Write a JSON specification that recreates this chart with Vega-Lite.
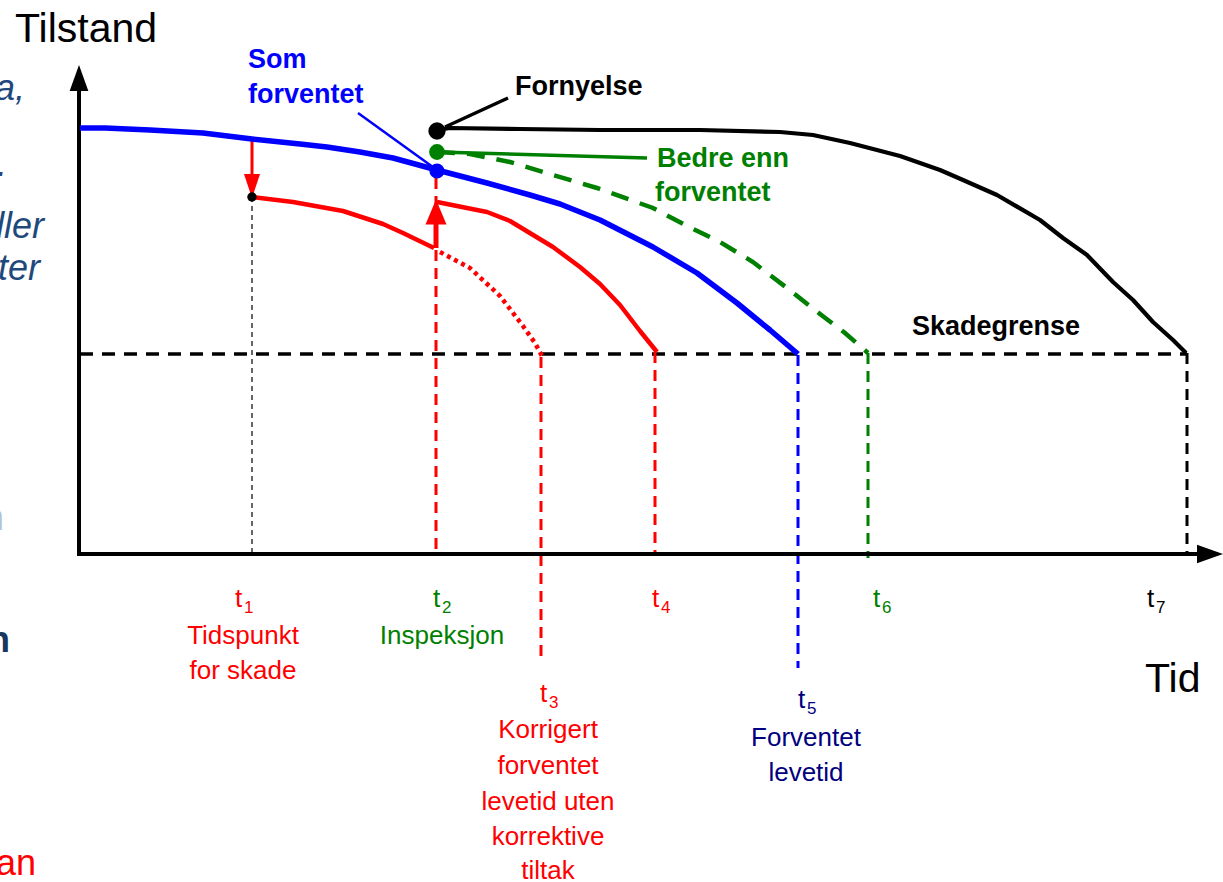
{
  "$schema": "https://vega.github.io/schema/vega-lite/v6.json",
  "width": 1223,
  "height": 882,
  "autosize": {"type": "none"},
  "padding": 0,
  "background": "white",
  "view": {"stroke": null},
  "config": {"font": "Liberation Sans"},
  "datasets": {
    "curves": [
      {"series": "blue", "role": "expected", "x": 80, "y": 128},
      {"series": "blue", "role": "expected", "x": 105, "y": 128},
      {"series": "blue", "role": "expected", "x": 150, "y": 130},
      {"series": "blue", "role": "expected", "x": 203, "y": 133},
      {"series": "blue", "role": "expected", "x": 252, "y": 139},
      {"series": "blue", "role": "expected", "x": 300, "y": 144},
      {"series": "blue", "role": "expected", "x": 327, "y": 147},
      {"series": "blue", "role": "expected", "x": 360, "y": 152},
      {"series": "blue", "role": "expected", "x": 393, "y": 158},
      {"series": "blue", "role": "expected", "x": 437, "y": 170},
      {"series": "blue", "role": "expected", "x": 487, "y": 183},
      {"series": "blue", "role": "expected", "x": 530, "y": 195},
      {"series": "blue", "role": "expected", "x": 560, "y": 204},
      {"series": "blue", "role": "expected", "x": 600, "y": 220},
      {"series": "blue", "role": "expected", "x": 653, "y": 247},
      {"series": "blue", "role": "expected", "x": 697, "y": 273},
      {"series": "blue", "role": "expected", "x": 737, "y": 303},
      {"series": "blue", "role": "expected", "x": 770, "y": 330},
      {"series": "blue", "role": "expected", "x": 798, "y": 354},
      {"series": "red1", "role": "damage", "x": 252, "y": 197},
      {"series": "red1", "role": "damage", "x": 293, "y": 202},
      {"series": "red1", "role": "damage", "x": 343, "y": 211},
      {"series": "red1", "role": "damage", "x": 383, "y": 224},
      {"series": "red1", "role": "damage", "x": 403, "y": 233},
      {"series": "red1", "role": "damage", "x": 434, "y": 248},
      {"series": "red2", "role": "damage", "x": 437, "y": 202},
      {"series": "red2", "role": "damage", "x": 487, "y": 212},
      {"series": "red2", "role": "damage", "x": 510, "y": 221},
      {"series": "red2", "role": "damage", "x": 553, "y": 247},
      {"series": "red2", "role": "damage", "x": 580, "y": 267},
      {"series": "red2", "role": "damage", "x": 600, "y": 284},
      {"series": "red2", "role": "damage", "x": 620, "y": 305},
      {"series": "red2", "role": "damage", "x": 640, "y": 331},
      {"series": "red2", "role": "damage", "x": 657, "y": 352},
      {"series": "redDot", "role": "damage", "x": 440, "y": 252},
      {"series": "redDot", "role": "damage", "x": 470, "y": 268},
      {"series": "redDot", "role": "damage", "x": 500, "y": 296},
      {"series": "redDot", "role": "damage", "x": 523, "y": 326},
      {"series": "redDot", "role": "damage", "x": 535, "y": 343},
      {"series": "redDot", "role": "damage", "x": 543, "y": 358},
      {"series": "greenDash", "role": "better", "x": 437, "y": 152},
      {"series": "greenDash", "role": "better", "x": 470, "y": 154},
      {"series": "greenDash", "role": "better", "x": 510, "y": 162},
      {"series": "greenDash", "role": "better", "x": 553, "y": 175},
      {"series": "greenDash", "role": "better", "x": 597, "y": 188},
      {"series": "greenDash", "role": "better", "x": 653, "y": 208},
      {"series": "greenDash", "role": "better", "x": 687, "y": 226},
      {"series": "greenDash", "role": "better", "x": 720, "y": 242},
      {"series": "greenDash", "role": "better", "x": 753, "y": 262},
      {"series": "greenDash", "role": "better", "x": 787, "y": 288},
      {"series": "greenDash", "role": "better", "x": 820, "y": 314},
      {"series": "greenDash", "role": "better", "x": 845, "y": 333},
      {"series": "greenDash", "role": "better", "x": 868, "y": 353},
      {"series": "renewal", "role": "renewal", "x": 437, "y": 130},
      {"series": "renewal", "role": "renewal", "x": 450, "y": 128},
      {"series": "renewal", "role": "renewal", "x": 520, "y": 129},
      {"series": "renewal", "role": "renewal", "x": 600, "y": 130},
      {"series": "renewal", "role": "renewal", "x": 700, "y": 130},
      {"series": "renewal", "role": "renewal", "x": 780, "y": 132},
      {"series": "renewal", "role": "renewal", "x": 813, "y": 135},
      {"series": "renewal", "role": "renewal", "x": 850, "y": 143},
      {"series": "renewal", "role": "renewal", "x": 900, "y": 156},
      {"series": "renewal", "role": "renewal", "x": 940, "y": 170},
      {"series": "renewal", "role": "renewal", "x": 963, "y": 180},
      {"series": "renewal", "role": "renewal", "x": 997, "y": 195},
      {"series": "renewal", "role": "renewal", "x": 1040, "y": 220},
      {"series": "renewal", "role": "renewal", "x": 1063, "y": 238},
      {"series": "renewal", "role": "renewal", "x": 1087, "y": 255},
      {"series": "renewal", "role": "renewal", "x": 1113, "y": 282},
      {"series": "renewal", "role": "renewal", "x": 1133, "y": 300},
      {"series": "renewal", "role": "renewal", "x": 1153, "y": 322},
      {"series": "renewal", "role": "renewal", "x": 1173, "y": 340},
      {"series": "renewal", "role": "renewal", "x": 1186, "y": 353},
      {"series": "blueLeader", "role": "expected", "x": 358, "y": 113},
      {"series": "blueLeader", "role": "expected", "x": 437, "y": 170},
      {"series": "blackLeader", "role": "renewal", "x": 445, "y": 127},
      {"series": "blackLeader", "role": "renewal", "x": 508, "y": 98},
      {"series": "greenLeader", "role": "better", "x": 437, "y": 152},
      {"series": "greenLeader", "role": "better", "x": 647, "y": 158}
    ],
    "vrules": [
      {"style": "axis", "role": "black", "x": 79, "y": 556, "y2": 86},
      {"style": "shaft", "role": "damage", "x": 252, "y": 140, "y2": 178},
      {"style": "shaftUp", "role": "damage", "x": 436, "y": 248, "y2": 220},
      {"style": "thin", "role": "grey", "x": 252, "y": 197, "y2": 556},
      {"style": "dash", "role": "damage", "x": 436, "y": 178, "y2": 556},
      {"style": "dash", "role": "damage", "x": 541, "y": 357, "y2": 662},
      {"style": "dash", "role": "damage", "x": 655, "y": 352, "y2": 556},
      {"style": "dash", "role": "expected", "x": 798, "y": 355, "y2": 668},
      {"style": "dash", "role": "better", "x": 868, "y": 353, "y2": 558},
      {"style": "dash", "role": "black", "x": 1187, "y": 353, "y2": 556}
    ],
    "hrules": [
      {"style": "axis", "role": "black", "x": 77, "x2": 1205, "y": 554},
      {"style": "limit", "role": "black", "x": 80, "x2": 1187, "y": 354}
    ],
    "heads": [
      {"head": "axisUp", "x": 79, "y": 78},
      {"head": "axisRight", "x": 1210, "y": 554},
      {"head": "redDown", "x": 252, "y": 186},
      {"head": "redUp", "x": 436, "y": 212}
    ],
    "dots": [
      {"dot": "renewal", "role": "renewal", "x": 437, "y": 131, "area": 300},
      {"dot": "better", "role": "better", "x": 437, "y": 152, "area": 250},
      {"dot": "expected", "role": "expected", "x": 437, "y": 171, "area": 230},
      {"dot": "damage", "role": "black", "x": 252, "y": 197, "area": 90}
    ],
    "labels": [
      {"style": "title", "role": "black", "text": "Tilstand", "x": 15, "y": 42},
      {"style": "title", "role": "black", "text": "Tid", "x": 1145, "y": 692},
      {"style": "bold", "role": "expected", "text": "Som", "x": 248, "y": 68},
      {"style": "bold", "role": "expected", "text": "forventet", "x": 248, "y": 103},
      {"style": "bold", "role": "renewal", "text": "Fornyelse", "x": 515, "y": 95},
      {"style": "bold", "role": "better", "text": "Bedre enn", "x": 657, "y": 167},
      {"style": "bold", "role": "better", "text": "forventet", "x": 655, "y": 201},
      {"style": "bold", "role": "black", "text": "Skadegrense", "x": 912, "y": 335},
      {"style": "t", "role": "damage", "text": "t", "x": 235, "y": 607},
      {"style": "t", "role": "inspection", "text": "t", "x": 433, "y": 607},
      {"style": "t", "role": "damage", "text": "t", "x": 540, "y": 702},
      {"style": "t", "role": "damage", "text": "t", "x": 652, "y": 607},
      {"style": "t", "role": "lifetime", "text": "t", "x": 798, "y": 708},
      {"style": "t", "role": "better", "text": "t", "x": 873, "y": 607},
      {"style": "t", "role": "black", "text": "t", "x": 1147, "y": 607},
      {"style": "sub", "role": "damage", "text": "1", "x": 244, "y": 613},
      {"style": "sub", "role": "inspection", "text": "2", "x": 442, "y": 613},
      {"style": "sub", "role": "damage", "text": "3", "x": 549, "y": 708},
      {"style": "sub", "role": "damage", "text": "4", "x": 661, "y": 613},
      {"style": "sub", "role": "lifetime", "text": "5", "x": 807, "y": 714},
      {"style": "sub", "role": "better", "text": "6", "x": 882, "y": 613},
      {"style": "sub", "role": "black", "text": "7", "x": 1156, "y": 613},
      {"style": "desc", "role": "damage", "text": "Tidspunkt", "x": 243, "y": 644},
      {"style": "desc", "role": "damage", "text": "for skade", "x": 243, "y": 679},
      {"style": "desc", "role": "inspection", "text": "Inspeksjon", "x": 442, "y": 644},
      {"style": "desc", "role": "damage", "text": "Korrigert", "x": 548, "y": 738},
      {"style": "desc", "role": "damage", "text": "forventet", "x": 548, "y": 774},
      {"style": "desc", "role": "damage", "text": "levetid uten", "x": 548, "y": 810},
      {"style": "desc", "role": "damage", "text": "korrektive", "x": 548, "y": 845},
      {"style": "desc", "role": "damage", "text": "tiltak", "x": 548, "y": 879},
      {"style": "desc", "role": "lifetime", "text": "Forventet", "x": 806, "y": 746},
      {"style": "desc", "role": "lifetime", "text": "levetid", "x": 806, "y": 781},
      {"style": "italic", "role": "note", "text": "a,", "x": 25, "y": 100},
      {"style": "italic", "role": "note", "text": ".", "x": 7, "y": 176},
      {"style": "italic", "role": "note", "text": "dler", "x": 44, "y": 238},
      {"style": "italic", "role": "note", "text": "ter", "x": 40, "y": 280},
      {"style": "plain", "role": "noteLight", "text": "n", "x": 4, "y": 530},
      {"style": "boldNote", "role": "noteDark", "text": "n", "x": 10, "y": 652},
      {"style": "plain", "role": "noteRed", "text": "an", "x": 36, "y": 875}
    ]
  },
  "encoding": {
    "x": {"field": "x", "type": "quantitative", "scale": {"domain": [0, 1223], "nice": false, "zero": false}, "axis": null},
    "y": {"field": "y", "type": "quantitative", "scale": {"domain": [0, 882], "reverse": true, "nice": false, "zero": false}, "axis": null}
  },
  "layer": [
    {
      "data": {"name": "hrules"},
      "transform": [{"filter": "datum.style == 'limit'"}],
      "mark": {"type": "rule", "strokeWidth": 3.5, "strokeDash": [13, 9], "color": "#000000"},
      "encoding": {"x2": {"field": "x2"}}
    },
    {
      "data": {"name": "vrules"},
      "transform": [{"filter": "datum.style == 'thin'"}],
      "mark": {"type": "rule", "strokeWidth": 1.5, "strokeDash": [5, 4], "color": "#333333"},
      "encoding": {"y2": {"field": "y2"}}
    },
    {
      "data": {"name": "vrules"},
      "transform": [{"filter": "datum.style == 'dash'"}],
      "mark": {"type": "rule", "strokeWidth": 3, "strokeDash": [11, 7]},
      "encoding": {
        "y2": {"field": "y2"},
        "color": {"field": "role", "type": "nominal", "legend": null, "scale": {"domain": ["damage", "inspection", "expected", "lifetime", "renewal", "better", "black", "grey", "note", "noteLight", "noteDark", "noteRed"], "range": ["#FF0000", "#008000", "#0000FF", "#000080", "#000000", "#008000", "#000000", "#333333", "#1F497D", "#B4C3DA", "#17375E", "#FF0000"]}}
      }
    },
    {
      "data": {"name": "vrules"},
      "transform": [{"filter": "datum.style == 'axis'"}],
      "mark": {"type": "rule", "strokeWidth": 4, "color": "#000000"},
      "encoding": {"y2": {"field": "y2"}}
    },
    {
      "data": {"name": "hrules"},
      "transform": [{"filter": "datum.style == 'axis'"}],
      "mark": {"type": "rule", "strokeWidth": 4, "color": "#000000"},
      "encoding": {"x2": {"field": "x2"}}
    },
    {
      "data": {"name": "vrules"},
      "transform": [{"filter": "datum.style == 'shaft'"}],
      "mark": {"type": "rule", "strokeWidth": 3, "color": "#FF0000"},
      "encoding": {"y2": {"field": "y2"}}
    },
    {
      "data": {"name": "vrules"},
      "transform": [{"filter": "datum.style == 'shaftUp'"}],
      "mark": {"type": "rule", "strokeWidth": 5, "color": "#FF0000"},
      "encoding": {"y2": {"field": "y2"}}
    },
    {
      "data": {"name": "curves"},
      "transform": [{"filter": "datum.series == 'greenDash'"}],
      "mark": {"type": "line", "strokeWidth": 4.5, "strokeDash": [18, 12], "color": "#008000"},
      "encoding": {"detail": {"field": "series"}}
    },
    {
      "data": {"name": "curves"},
      "transform": [{"filter": "datum.series == 'renewal'"}],
      "mark": {"type": "line", "strokeWidth": 4.2, "color": "#000000", "strokeJoin": "round"},
      "encoding": {"detail": {"field": "series"}}
    },
    {
      "data": {"name": "curves"},
      "transform": [{"filter": "datum.series == 'red1' || datum.series == 'red2'"}],
      "mark": {"type": "line", "strokeWidth": 4.5, "color": "#FF0000", "strokeJoin": "round"},
      "encoding": {"detail": {"field": "series"}}
    },
    {
      "data": {"name": "curves"},
      "transform": [{"filter": "datum.series == 'redDot'"}],
      "mark": {"type": "line", "strokeWidth": 4.5, "strokeDash": [4, 4], "color": "#FF0000"},
      "encoding": {"detail": {"field": "series"}}
    },
    {
      "data": {"name": "curves"},
      "transform": [{"filter": "datum.series == 'blue'"}],
      "mark": {"type": "line", "strokeWidth": 5.5, "color": "#0000FF", "strokeJoin": "round"},
      "encoding": {"detail": {"field": "series"}}
    },
    {
      "data": {"name": "curves"},
      "transform": [{"filter": "datum.series == 'blueLeader'"}],
      "mark": {"type": "line", "strokeWidth": 2.5, "color": "#0000FF"},
      "encoding": {"detail": {"field": "series"}}
    },
    {
      "data": {"name": "curves"},
      "transform": [{"filter": "datum.series == 'blackLeader' || datum.series == 'greenLeader'"}],
      "mark": {"type": "line", "strokeWidth": 3.5},
      "encoding": {
        "detail": {"field": "series"},
        "color": {"field": "role", "type": "nominal", "legend": null, "scale": {"domain": ["damage", "inspection", "expected", "lifetime", "renewal", "better", "black", "grey", "note", "noteLight", "noteDark", "noteRed"], "range": ["#FF0000", "#008000", "#0000FF", "#000080", "#000000", "#008000", "#000000", "#333333", "#1F497D", "#B4C3DA", "#17375E", "#FF0000"]}}
      }
    },
    {
      "data": {"name": "heads"},
      "transform": [{"filter": "datum.head == 'axisUp'"}],
      "mark": {"type": "point", "shape": "M0,-1L0.72,1L-0.72,1Z", "filled": true, "size": 676, "color": "#000000", "opacity": 1, "strokeWidth": 0}
    },
    {
      "data": {"name": "heads"},
      "transform": [{"filter": "datum.head == 'axisRight'"}],
      "mark": {"type": "point", "shape": "M1,0L-1,0.72L-1,-0.72Z", "filled": true, "size": 676, "color": "#000000", "opacity": 1, "strokeWidth": 0}
    },
    {
      "data": {"name": "heads"},
      "transform": [{"filter": "datum.head == 'redDown'"}],
      "mark": {"type": "point", "shape": "M0,1L0.67,-1L-0.67,-1Z", "filled": true, "size": 576, "color": "#FF0000", "opacity": 1, "strokeWidth": 0}
    },
    {
      "data": {"name": "heads"},
      "transform": [{"filter": "datum.head == 'redUp'"}],
      "mark": {"type": "point", "shape": "M0,-1L0.84,1L-0.84,1Z", "filled": true, "size": 625, "color": "#FF0000", "opacity": 1, "strokeWidth": 0}
    },
    {
      "data": {"name": "dots"},
      "mark": {"type": "circle", "opacity": 1},
      "encoding": {
        "size": {"field": "area", "type": "quantitative", "scale": null, "legend": null},
        "color": {"field": "role", "type": "nominal", "legend": null, "scale": {"domain": ["damage", "inspection", "expected", "lifetime", "renewal", "better", "black", "grey", "note", "noteLight", "noteDark", "noteRed"], "range": ["#FF0000", "#008000", "#0000FF", "#000080", "#000000", "#008000", "#000000", "#333333", "#1F497D", "#B4C3DA", "#17375E", "#FF0000"]}}
      }
    },
    {
      "data": {"name": "labels"},
      "transform": [{"filter": "datum.style == 'title'"}],
      "mark": {"type": "text", "align": "left", "baseline": "alphabetic", "fontSize": 41, "color": "#000000"},
      "encoding": {"text": {"field": "text"}}
    },
    {
      "data": {"name": "labels"},
      "transform": [{"filter": "datum.style == 'bold'"}],
      "mark": {"type": "text", "align": "left", "baseline": "alphabetic", "fontSize": 27, "fontWeight": "bold"},
      "encoding": {
        "text": {"field": "text"},
        "color": {"field": "role", "type": "nominal", "legend": null, "scale": {"domain": ["damage", "inspection", "expected", "lifetime", "renewal", "better", "black", "grey", "note", "noteLight", "noteDark", "noteRed"], "range": ["#FF0000", "#008000", "#0000FF", "#000080", "#000000", "#008000", "#000000", "#333333", "#1F497D", "#B4C3DA", "#17375E", "#FF0000"]}}
      }
    },
    {
      "data": {"name": "labels"},
      "transform": [{"filter": "datum.style == 't'"}],
      "mark": {"type": "text", "align": "left", "baseline": "alphabetic", "fontSize": 26},
      "encoding": {
        "text": {"field": "text"},
        "color": {"field": "role", "type": "nominal", "legend": null, "scale": {"domain": ["damage", "inspection", "expected", "lifetime", "renewal", "better", "black", "grey", "note", "noteLight", "noteDark", "noteRed"], "range": ["#FF0000", "#008000", "#0000FF", "#000080", "#000000", "#008000", "#000000", "#333333", "#1F497D", "#B4C3DA", "#17375E", "#FF0000"]}}
      }
    },
    {
      "data": {"name": "labels"},
      "transform": [{"filter": "datum.style == 'sub'"}],
      "mark": {"type": "text", "align": "left", "baseline": "alphabetic", "fontSize": 17},
      "encoding": {
        "text": {"field": "text"},
        "color": {"field": "role", "type": "nominal", "legend": null, "scale": {"domain": ["damage", "inspection", "expected", "lifetime", "renewal", "better", "black", "grey", "note", "noteLight", "noteDark", "noteRed"], "range": ["#FF0000", "#008000", "#0000FF", "#000080", "#000000", "#008000", "#000000", "#333333", "#1F497D", "#B4C3DA", "#17375E", "#FF0000"]}}
      }
    },
    {
      "data": {"name": "labels"},
      "transform": [{"filter": "datum.style == 'desc'"}],
      "mark": {"type": "text", "align": "center", "baseline": "alphabetic", "fontSize": 26},
      "encoding": {
        "text": {"field": "text"},
        "color": {"field": "role", "type": "nominal", "legend": null, "scale": {"domain": ["damage", "inspection", "expected", "lifetime", "renewal", "better", "black", "grey", "note", "noteLight", "noteDark", "noteRed"], "range": ["#FF0000", "#008000", "#0000FF", "#000080", "#000000", "#008000", "#000000", "#333333", "#1F497D", "#B4C3DA", "#17375E", "#FF0000"]}}
      }
    },
    {
      "data": {"name": "labels"},
      "transform": [{"filter": "datum.style == 'italic'"}],
      "mark": {"type": "text", "align": "right", "baseline": "alphabetic", "fontSize": 36, "fontStyle": "italic"},
      "encoding": {
        "text": {"field": "text"},
        "color": {"field": "role", "type": "nominal", "legend": null, "scale": {"domain": ["damage", "inspection", "expected", "lifetime", "renewal", "better", "black", "grey", "note", "noteLight", "noteDark", "noteRed"], "range": ["#FF0000", "#008000", "#0000FF", "#000080", "#000000", "#008000", "#000000", "#333333", "#1F497D", "#B4C3DA", "#17375E", "#FF0000"]}}
      }
    },
    {
      "data": {"name": "labels"},
      "transform": [{"filter": "datum.style == 'plain'"}],
      "mark": {"type": "text", "align": "right", "baseline": "alphabetic", "fontSize": 36},
      "encoding": {
        "text": {"field": "text"},
        "color": {"field": "role", "type": "nominal", "legend": null, "scale": {"domain": ["damage", "inspection", "expected", "lifetime", "renewal", "better", "black", "grey", "note", "noteLight", "noteDark", "noteRed"], "range": ["#FF0000", "#008000", "#0000FF", "#000080", "#000000", "#008000", "#000000", "#333333", "#1F497D", "#B4C3DA", "#17375E", "#FF0000"]}}
      }
    },
    {
      "data": {"name": "labels"},
      "transform": [{"filter": "datum.style == 'boldNote'"}],
      "mark": {"type": "text", "align": "right", "baseline": "alphabetic", "fontSize": 36, "fontWeight": "bold"},
      "encoding": {
        "text": {"field": "text"},
        "color": {"field": "role", "type": "nominal", "legend": null, "scale": {"domain": ["damage", "inspection", "expected", "lifetime", "renewal", "better", "black", "grey", "note", "noteLight", "noteDark", "noteRed"], "range": ["#FF0000", "#008000", "#0000FF", "#000080", "#000000", "#008000", "#000000", "#333333", "#1F497D", "#B4C3DA", "#17375E", "#FF0000"]}}
      }
    }
  ]
}
